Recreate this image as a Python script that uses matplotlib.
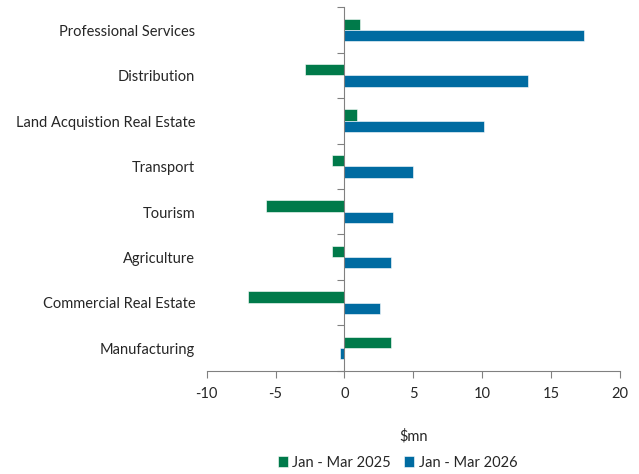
import matplotlib
matplotlib.use("Agg")
import matplotlib.pyplot as plt
import numpy as np
from matplotlib.transforms import blended_transform_factory

categories = ["Professional Services", "Distribution", "Land Acquistion Real Estate",
              "Transport", "Tourism", "Agriculture", "Commercial Real Estate", "Manufacturing"]
jan_mar_2025 = [1.1, -2.9, 0.9, -0.9, -5.7, -0.9, -7.0, 3.4]
jan_mar_2026 = [17.4, 13.3, 10.1, 5.0, 3.5, 3.4, 2.6, -0.3]
xticks = [-10, -5, 0, 5, 10, 15, 20]
series_labels = ["Jan - Mar 2025", "Jan - Mar 2026"]

plt.rcParams['font.family'] = ['Lato', 'DejaVu Sans']
green = "#007A4A"
blue = "#006BA1"
axcol = "#808080"
txtcol = "#262626"

fig = plt.figure(figsize=(6.39, 4.74), dpi=100)
ax = fig.add_axes([0.3235, 0.218, 0.9703 - 0.3235, 0.9846 - 0.218])

y = np.arange(len(categories))
h = 0.25
ax.barh(y - h / 2, jan_mar_2025, height=h, color=green, edgecolor="white", linewidth=0.4,
        label=series_labels[0])
ax.barh(y + h / 2, jan_mar_2026, height=h, color=blue, edgecolor="white", linewidth=0.4,
        label=series_labels[1])

ax.set_xlim(-10, 20)
ax.set_ylim(len(categories) - 0.5, -0.5)
ax.set_xticks(xticks)
ax.set_xticklabels([str(v) for v in xticks], fontsize=10.5, color=txtcol)

for s in ["top", "right"]:
    ax.spines[s].set_visible(False)
ax.spines["left"].set_position(("data", 0))
ax.spines["left"].set_color(axcol)
ax.spines["bottom"].set_color(axcol)
ax.tick_params(axis="x", direction="out", length=5, color=axcol, pad=7)
ax.set_yticks(np.arange(len(categories) + 1) - 0.5)
ax.set_yticklabels([])
ax.tick_params(axis="y", direction="out", length=5, color=axcol)

tr = blended_transform_factory(ax.transAxes, ax.transData)
for i, c in enumerate(categories):
    ax.text(-0.028, i + 0.04, c, transform=tr, ha="right", va="center", fontsize=10.5,
            color=txtcol)

fig.text((0.3235 + 0.9703) / 2, 0.080, "$mn", ha="center", va="center",
         fontsize=10.5, color=txtcol)
leg = fig.legend(loc="center", bbox_to_anchor=(0.622, 0.024), ncol=2, frameon=False,
                 fontsize=10.5, handlelength=0.7, handleheight=0.7, handletextpad=0.3,
                 columnspacing=0.9, labelcolor=txtcol)

fig.savefig("out.png", dpi=100)
